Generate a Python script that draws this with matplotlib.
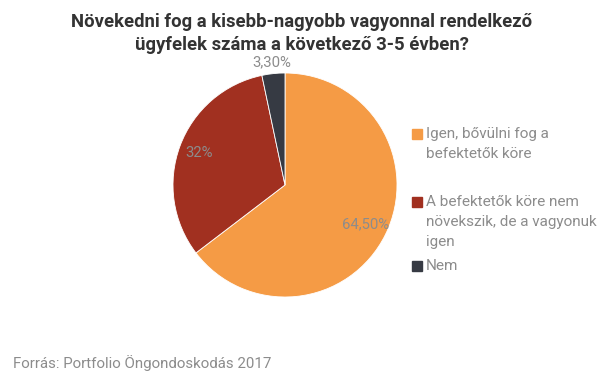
import numpy as np
import matplotlib.pyplot as plt
from matplotlib.patches import Rectangle

plt.rcParams['font.family'] = ['Roboto', 'DejaVu Sans']

# data
categories = ["Igen, bővülni fog a\nbefektetők köre",
              "A befektetők köre nem\nnövekszik, de a vagyonuk\nigen",
              "Nem"]
shares = [64.5, 32.0, 3.3]
share_labels = ["64,50%", "32%", "3,30%"]
colors = ["#F59B45", "#A13020", "#363A43"]

W, H = 607, 380
fig = plt.figure(figsize=(W / 100, H / 100), dpi=100)

# pie: center (285,185) px, radius 112 px
cx, cy, r = 285, 185, 112
ax = fig.add_axes([(cx - r) / W, (H - cy - r) / H, 2 * r / W, 2 * r / H])
wedges, texts = ax.pie(shares, colors=colors, startangle=90, counterclock=False,
                       labels=share_labels, labeldistance=None,
                       wedgeprops=dict(edgecolor="white", linewidth=0.6))
ax.set_xlim(-1, 1)
ax.set_ylim(-1, 1)
ax.set_aspect("equal")
ax.axis("off")

dists = [0.80, 0.82, 1.10]
for w, lab, d in zip(wedges, share_labels, dists):
    ang = np.deg2rad((w.theta1 + w.theta2) / 2)
    ax.text(d * np.cos(ang), d * np.sin(ang), lab, ha="center", va="center",
            fontsize=10.7, color="#8C8C8C")

# title
fig.text(302 / W, 1 - 22 / H, "Növekedni fog a kisebb-nagyobb vagyonnal rendelkező",
         ha="center", va="center", fontsize=13.3, fontweight="bold", color="#333333")
fig.text(302 / W, 1 - 45 / H, "ügyfelek száma a következő 3-5 évben?",
         ha="center", va="center", fontsize=13.3, fontweight="bold", color="#333333")

# legend (manual)
legend_y = [134, 202, 266]
line_h = 20
for lab, col, y in zip(categories, colors, legend_y):
    fig.patches.append(Rectangle((412 / W, 1 - (y + 5) / H), 10 / W, 10 / H,
                                 transform=fig.transFigure, color=col))
    for i, line in enumerate(lab.split("\n")):
        fig.text(426 / W, 1 - (y + i * line_h) / H, line, ha="left", va="center",
                 fontsize=11, color="#8C8C8C")

# source
fig.text(13 / W, 1 - 363 / H, "Forrás: Portfolio Öngondoskodás 2017",
         ha="left", va="center", fontsize=10.8, color="#8C8C8C")

fig.savefig("out.png", dpi=100)
